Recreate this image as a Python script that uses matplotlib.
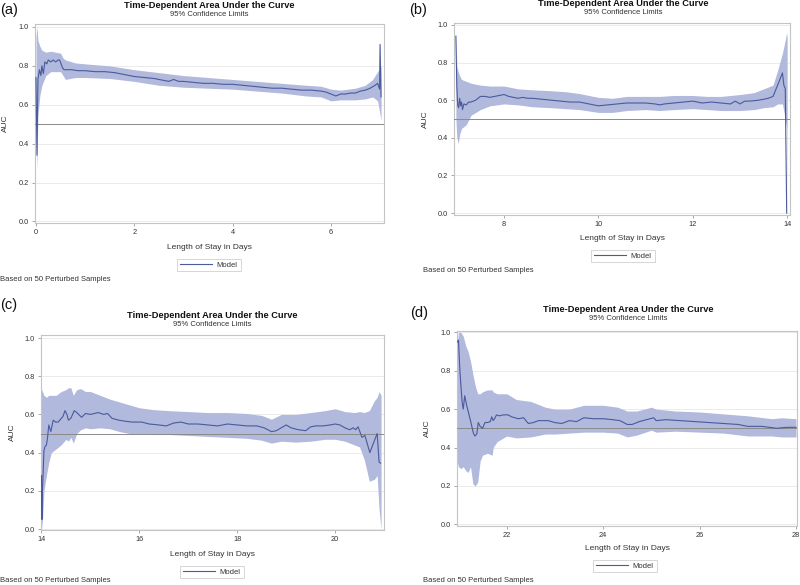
import matplotlib
matplotlib.use("Agg")
import matplotlib.pyplot as plt
from matplotlib.lines import Line2D

plt.rcParams['font.family'] = ['Liberation Sans', 'DejaVu Sans']

# ---- panel (a): 0-7 days
line_x_a = [0.0, 0.02, 0.04, 0.07, 0.10, 0.12, 0.15, 0.18, 0.22, 0.25,
            0.30, 0.35, 0.40, 0.45, 0.48, 0.51, 0.54, 0.57, 0.65, 0.73,
            0.85, 1.0, 1.2, 1.4, 1.6, 1.8, 2.0, 2.2, 2.4, 2.6,
            2.7, 2.8, 2.9, 3.0, 3.2, 3.4, 3.6, 3.8, 4.0, 4.2,
            4.4, 4.6, 4.8, 5.0, 5.2, 5.4, 5.6, 5.8, 5.9, 6.0,
            6.1, 6.2, 6.3, 6.4, 6.5, 6.6, 6.7, 6.8, 6.9, 6.95,
            6.99, 7.0, 7.02]
auc_a = [0.74, 0.34, 0.73, 0.78, 0.75, 0.80, 0.76, 0.82, 0.81, 0.83,
         0.82, 0.83, 0.82, 0.83, 0.83, 0.81, 0.79, 0.78, 0.78, 0.78,
         0.775, 0.775, 0.77, 0.77, 0.765, 0.755, 0.745, 0.74, 0.735, 0.725,
         0.72, 0.73, 0.72, 0.72, 0.715, 0.71, 0.71, 0.705, 0.705, 0.70,
         0.695, 0.69, 0.685, 0.685, 0.68, 0.675, 0.675, 0.67, 0.665, 0.655,
         0.645, 0.655, 0.655, 0.66, 0.66, 0.67, 0.675, 0.685, 0.70, 0.71,
         0.68, 0.91, 0.64]
band_x_a = [0.0, 0.02, 0.04, 0.08, 0.12, 0.2, 0.3, 0.4, 0.5, 0.55,
            0.6, 0.8, 1.0, 1.5, 2.0, 2.5, 3.0, 3.5, 4.0, 4.5,
            5.0, 5.5, 5.8, 6.0, 6.2, 6.5, 6.7, 6.85, 6.95, 7.02]
hi_a = [0.95, 1.0, 0.93, 0.90, 0.88, 0.87, 0.875, 0.87, 0.865, 0.84,
        0.83, 0.815, 0.81, 0.80, 0.78, 0.765, 0.75, 0.74, 0.73, 0.72,
        0.71, 0.70, 0.695, 0.68, 0.675, 0.685, 0.70, 0.73, 0.77, 0.80]
lo_a = [0.50, 0.27, 0.55, 0.65, 0.70, 0.75, 0.77, 0.77, 0.77, 0.75,
        0.73, 0.74, 0.74, 0.735, 0.72, 0.70, 0.69, 0.685, 0.68, 0.67,
        0.66, 0.645, 0.64, 0.62, 0.625, 0.625, 0.63, 0.64, 0.62, 0.52]

# ---- panel (b): 7-14 days
line_x_b = [6.98, 7.0, 7.02, 7.04, 7.06, 7.08, 7.10, 7.12, 7.15, 7.2,
            7.25, 7.3, 7.4, 7.5, 7.6, 7.7, 7.8, 7.9, 8.0, 8.1,
            8.2, 8.3, 8.4, 8.5, 8.6, 8.8, 9.0, 9.2, 9.4, 9.6,
            9.8, 10.0, 10.2, 10.4, 10.6, 10.8, 11.0, 11.2, 11.3, 11.4,
            11.6, 11.8, 12.0, 12.2, 12.4, 12.6, 12.8, 12.9, 13.0, 13.1,
            13.2, 13.4, 13.6, 13.7, 13.75, 13.83, 13.9, 13.93, 13.96, 13.99]
auc_b = [0.94, 0.67, 0.57, 0.56, 0.61, 0.57, 0.59, 0.55, 0.58, 0.575,
         0.59, 0.59, 0.60, 0.62, 0.62, 0.615, 0.62, 0.625, 0.63, 0.62,
         0.615, 0.61, 0.615, 0.61, 0.61, 0.605, 0.60, 0.595, 0.59, 0.59,
         0.58, 0.57, 0.575, 0.58, 0.585, 0.585, 0.585, 0.58, 0.575, 0.58,
         0.585, 0.59, 0.595, 0.585, 0.59, 0.585, 0.58, 0.595, 0.58, 0.595,
         0.595, 0.60, 0.61, 0.62, 0.65, 0.70, 0.745, 0.68, 0.66, 0.0]
band_x_b = [6.98, 7.0, 7.03, 7.06, 7.1, 7.2, 7.3, 7.5, 7.7, 8.0,
            8.3, 8.6, 9.0, 9.3, 9.6, 10.0, 10.3, 10.6, 11.0, 11.3,
            11.6, 12.0, 12.3, 12.6, 13.0, 13.3, 13.5, 13.7, 13.8, 13.9,
            13.96, 13.99, 14.0]
hi_b = [0.95, 0.78, 0.75, 0.73, 0.71, 0.70, 0.69, 0.68, 0.675, 0.675,
        0.66, 0.655, 0.65, 0.645, 0.635, 0.615, 0.61, 0.62, 0.62, 0.62,
        0.625, 0.625, 0.62, 0.62, 0.63, 0.64, 0.66, 0.68, 0.76, 0.85,
        0.92, 0.96, 0.93]
lo_b = [0.50, 0.40, 0.37, 0.42, 0.45, 0.47, 0.52, 0.55, 0.57, 0.58,
        0.575, 0.565, 0.56, 0.555, 0.55, 0.535, 0.535, 0.545, 0.55, 0.545,
        0.55, 0.555, 0.55, 0.545, 0.545, 0.55, 0.56, 0.565, 0.58, 0.58,
        0.50, 0.45, 0.0]

# ---- panel (c): 14-21 days
line_x_c = [14.0, 14.01, 14.02, 14.05, 14.07, 14.1, 14.12, 14.15, 14.19, 14.24,
            14.29, 14.34, 14.39, 14.44, 14.48, 14.52, 14.55, 14.6, 14.67, 14.72,
            14.76, 14.82, 14.9, 15.0, 15.16, 15.27, 15.35, 15.44, 15.58, 15.7,
            15.85, 16.05, 16.2, 16.4, 16.55, 16.7, 16.85, 17.0, 17.2, 17.4,
            17.6, 17.8, 18.0, 18.2, 18.4, 18.55, 18.7, 18.8, 18.9, 19.0,
            19.1, 19.25, 19.4, 19.5, 19.6, 19.75, 19.9, 20.0, 20.1, 20.2,
            20.3, 20.37, 20.42, 20.47, 20.55, 20.61, 20.71, 20.86, 20.9, 20.93]
auc_c = [0.28, 0.05, 0.20, 0.41, 0.43, 0.44, 0.47, 0.545, 0.51, 0.57,
         0.56, 0.56, 0.575, 0.59, 0.62, 0.60, 0.57, 0.58, 0.62, 0.61,
         0.60, 0.585, 0.605, 0.60, 0.61, 0.60, 0.605, 0.58, 0.57, 0.565,
         0.56, 0.56, 0.55, 0.545, 0.54, 0.555, 0.56, 0.55, 0.55, 0.545,
         0.54, 0.55, 0.545, 0.54, 0.54, 0.53, 0.51, 0.515, 0.53, 0.545,
         0.53, 0.52, 0.515, 0.535, 0.54, 0.54, 0.545, 0.55, 0.545, 0.53,
         0.52, 0.53, 0.52, 0.535, 0.48, 0.49, 0.40, 0.50, 0.35, 0.345]
band_x_c = [14.0, 14.02, 14.05, 14.1, 14.15, 14.2, 14.3, 14.4, 14.5, 14.55,
            14.6, 14.65, 14.72, 14.8, 14.9, 15.0, 15.2, 15.4, 15.6, 15.8,
            16.0, 16.3, 16.6, 17.0, 17.4, 17.8, 18.2, 18.5, 18.7, 18.9,
            19.2, 19.5, 19.8, 20.0, 20.2, 20.4, 20.5, 20.6, 20.7, 20.8,
            20.86, 20.9, 20.94]
hi_c = [0.73, 0.72, 0.70, 0.69, 0.70, 0.70, 0.70, 0.72, 0.73, 0.74,
        0.74, 0.70, 0.73, 0.735, 0.72, 0.72, 0.70, 0.68, 0.665, 0.65,
        0.635, 0.625, 0.62, 0.615, 0.61, 0.61, 0.605, 0.595, 0.575, 0.60,
        0.60, 0.61, 0.62, 0.63, 0.615, 0.61, 0.615, 0.61, 0.62, 0.67,
        0.69, 0.72, 0.70]
lo_c = [0.0, 0.05, 0.20, 0.28, 0.35, 0.40, 0.42, 0.44, 0.47, 0.46,
        0.48, 0.45, 0.50, 0.52, 0.53, 0.525, 0.53, 0.525, 0.51, 0.50,
        0.50, 0.495, 0.495, 0.49, 0.485, 0.48, 0.475, 0.465, 0.45, 0.46,
        0.455, 0.46, 0.47, 0.47, 0.46, 0.44, 0.43, 0.36, 0.25, 0.26,
        0.28, 0.10, 0.0]

# ---- panel (d): 21-28 days
line_x_d = [20.98, 21.0, 21.03, 21.06, 21.08, 21.1, 21.13, 21.17, 21.24, 21.31,
            21.34, 21.38, 21.41, 21.45, 21.5, 21.55, 21.6, 21.66, 21.69, 21.72,
            21.76, 21.79, 21.85, 21.93, 22.03, 22.1, 22.24, 22.35, 22.45, 22.55,
            22.66, 22.86, 23.0, 23.14, 23.3, 23.45, 23.6, 23.8, 24.0, 24.2,
            24.35, 24.5, 24.6, 24.75, 24.9, 25.05, 25.1, 25.3, 25.6, 25.9,
            26.2, 26.5, 26.8, 27.0, 27.3, 27.6, 27.8, 28.0]
auc_d = [0.95, 0.96, 0.80, 0.69, 0.63, 0.60, 0.67, 0.62, 0.55, 0.475,
         0.46, 0.47, 0.53, 0.51, 0.50, 0.53, 0.53, 0.535, 0.56, 0.54,
         0.555, 0.57, 0.565, 0.57, 0.57, 0.56, 0.55, 0.555, 0.525, 0.53,
         0.54, 0.54, 0.53, 0.525, 0.54, 0.535, 0.555, 0.55, 0.55, 0.545,
         0.54, 0.52, 0.52, 0.535, 0.545, 0.555, 0.54, 0.545, 0.54, 0.535,
         0.53, 0.525, 0.52, 0.51, 0.51, 0.50, 0.505, 0.505]
band_x_d = [20.98, 21.0, 21.05, 21.1, 21.15, 21.2, 21.25, 21.3, 21.35, 21.4,
            21.45, 21.5, 21.6, 21.7, 21.72, 21.8, 22.0, 22.2, 22.5, 22.8,
            23.0, 23.3, 23.6, 24.0, 24.3, 24.5, 24.7, 25.0, 25.1, 25.5,
            26.0, 26.5, 27.0, 27.5, 27.7, 28.0]
hi_d = [0.95, 1.0, 1.0, 0.98, 0.93, 0.90, 0.85, 0.78, 0.72, 0.68,
        0.68, 0.69, 0.70, 0.70, 0.69, 0.68, 0.68, 0.65, 0.64, 0.61,
        0.60, 0.60, 0.62, 0.62, 0.61, 0.59, 0.59, 0.61, 0.60, 0.59,
        0.585, 0.575, 0.565, 0.55, 0.555, 0.55]
lo_d = [0.32, 0.30, 0.29, 0.30, 0.28, 0.27, 0.30, 0.21, 0.20, 0.22,
        0.33, 0.36, 0.37, 0.36, 0.40, 0.43, 0.46, 0.45, 0.455, 0.47,
        0.47, 0.475, 0.48, 0.48, 0.475, 0.455, 0.465, 0.49, 0.48, 0.485,
        0.48, 0.475, 0.46, 0.46, 0.455, 0.455]

yticks = [0.0, 0.2, 0.4, 0.6, 0.8, 1.0]
xticks_a = [0, 2, 4, 6]
xticks_b = [8, 10, 12, 14]
xticks_c = [14, 16, 18, 20]
xticks_d = [22, 24, 26, 28]

BAND = '#b1b9dc'
LINE = '#4a5a9c'
GRID = '#ebebeb'
FRAME = '#c4c4c4'
TXT = '#333333'

W, H = 800, 585
fig = plt.figure(figsize=(8, 5.85), dpi=100)


def px(x, y):
    # pixel position (from top-left) -> figure fraction
    return x / W, 1 - y / H


def panel(box, xlim, ylim, xticks, lx, ly, bx, lo, hi, letter, lpos,
          tpos, xlab_y, ylab_x, leg_pos, foot_pos):
    l, t, r, b = box
    ax = fig.add_axes([l / W, 1 - b / H, (r - l) / W, (b - t) / H])
    ax.fill_between(bx, lo, hi, color=BAND, lw=0, zorder=2)
    ax.plot(lx, ly, color=LINE, lw=0.8, zorder=4)
    ax.axhline(0.5, color='#8a8a8a', lw=0.7, zorder=3)
    ax.set_xlim(*xlim)
    ax.set_ylim(*ylim)
    ax.set_yticks(yticks)
    ax.set_yticklabels(['%.1f' % v for v in yticks])
    ax.set_xticks(xticks)
    ax.grid(axis='y', color=GRID, lw=0.7, zorder=1)
    ax.set_axisbelow(True)
    for s in ax.spines.values():
        s.set_color(FRAME)
        s.set_linewidth(0.8)
    ax.tick_params(labelsize=5.3, colors=TXT, length=2.5, width=0.6,
                   pad=2, color='#999999')
    ax.tick_params(axis='y', labelsize=5.3)

    fig.text(*px(*lpos), letter, fontsize=10.5, va='center', ha='left',
             color='#111111')
    fig.text(*px(tpos[0], tpos[1]), 'Time-Dependent Area Under the Curve',
             fontsize=6.7, fontweight='bold', ha='center', va='center',
             color='#111111')
    fig.text(*px(tpos[0], tpos[1] + 9), '95% Confidence Limits',
             fontsize=5.5, ha='center', va='center', color=TXT)
    fig.text(*px((l + r) / 2, xlab_y), 'Length of Stay in Days',
             fontsize=6, ha='center', va='center', color=TXT)
    fig.text(*px(ylab_x, (t + b) / 2), 'AUC', fontsize=6, rotation=90,
             ha='center', va='center', color=TXT)
    fig.text(*px(*foot_pos), 'Based on 50 Perturbed Samples',
             fontsize=5.5, ha='left', va='center', color=TXT)
    handle = Line2D([], [], color=LINE, lw=0.8)
    leg = fig.legend([handle], ['Model'], loc='center',
                     bbox_to_anchor=px(*leg_pos), fontsize=5.5,
                     handlelength=4.2, handletextpad=0.6,
                     borderpad=0.35, fancybox=False, framealpha=1)
    leg.get_frame().set_edgecolor('#d0d0d0')
    leg.get_frame().set_linewidth(0.6)
    for tx in leg.get_texts():
        tx.set_color(TXT)
    return ax


panel((35, 24, 384, 223), (-0.02, 7.08), (-0.008, 1.015), xticks_a,
      line_x_a, auc_a, band_x_a, lo_a, hi_a, '(a)', (0, 10),
      (209, 5), 247, 5, (209, 265), (0, 279))
panel((454, 23, 790, 215), (6.94, 14.06), (-0.01, 1.01), xticks_b,
      line_x_b, auc_b, band_x_b, lo_b, hi_b, '(b)', (409, 10),
      (623, 4), 239, 425, (623, 256), (423, 270))
panel((41, 335, 384, 530), (13.99, 21.0), (-0.005, 1.016), xticks_c,
      line_x_c, auc_c, band_x_c, lo_c, hi_c, '(c)', (0, 305),
      (212, 315), 555, 12, (212, 572), (0, 580))
panel((457, 331, 797, 526), (20.97, 28.02), (-0.009, 1.007), xticks_d,
      line_x_d, auc_d, band_x_d, lo_d, hi_d, '(d)', (410, 313),
      (628, 310), 549, 427, (625, 566), (423, 581))

fig.savefig('out.png', dpi=100)
